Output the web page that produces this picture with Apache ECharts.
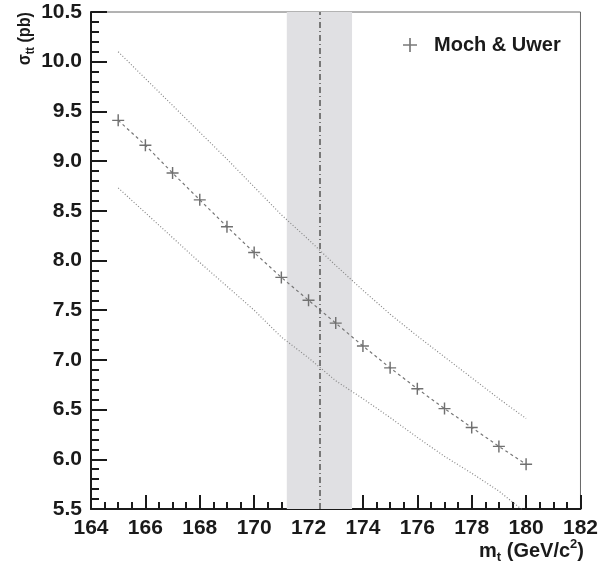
<!DOCTYPE html>
<html>
<head>
<meta charset="utf-8">
<script src="https://cdn.jsdelivr.net/npm/echarts@6/dist/echarts.min.js"></script>
<style>
html,body{margin:0;padding:0;background:#fff;}
#chart{width:601px;height:567px;}
</style>
</head>
<body>
<div id="chart"></div>
<script>
// top mass points (GeV/c^2)
var masses = [165,166,167,168,169,170,171,172,173,174,175,176,177,178,179,180];
// cross section, central + scale band (pb)
var central = [9.41,9.16,8.88,8.61,8.34,8.08,7.83,7.60,7.37,7.14,6.92,6.71,6.51,6.32,6.13,5.95];
var upper   = [10.10,9.83,9.56,9.29,9.02,8.74,8.46,8.21,7.95,7.70,7.46,7.24,7.03,6.82,6.61,6.41];
var lower   = [8.73,8.48,8.23,7.98,7.74,7.50,7.23,7.02,6.79,6.61,6.42,6.22,6.03,5.86,5.68,5.46];
var mtBand = [171.2,173.6];
var mtLine = 172.4;
var xTicks = [164,182,2];
var yTicks = [5.5,10.5,0.5];

function pairs(xs, ys){
	var out=[];
	for(var i=0;i<xs.length;i++){ out.push([xs[i],ys[i]]); }
	return out;
}

var plus = 'path://M4.4,0h1.2v4.4h4.4v1.2h-4.4v4.4h-1.2v-4.4h-4.4v-1.2h4.4z';
var font = 'Liberation Sans';

var myChart = echarts.init(document.getElementById('chart'));
var option = {
	animation:false,
	backgroundColor:'#fff',
	grid:{
		left:91, right:17, top:12, bottom:58,
		show:true, borderColor:'#666', borderWidth:1, backgroundColor:'transparent'
	},
	legend:{
		left:398, top:30,
		itemWidth:14, itemHeight:14,
		data:[{name:'Moch & Uwer', icon:plus}],
		itemStyle:{color:'#7a7a7a'},
		textStyle:{fontFamily:font, fontWeight:'bold', fontSize:20, color:'#1a1a1a', padding:[0,0,0,12]}
	},
	xAxis:{
		type:'value', min:xTicks[0], max:xTicks[1], interval:xTicks[2],
		axisLine:{lineStyle:{color:'#1a1a1a', width:2}},
		axisTick:{inside:true, length:14, lineStyle:{width:2, color:'#1a1a1a'}},
		minorTick:{show:true, splitNumber:4, length:7, lineStyle:{width:2, color:'#1a1a1a'}},
		splitLine:{show:false},
		axisLabel:{fontFamily:font, fontWeight:'bold', fontSize:21, color:'#1a1a1a', margin:9}
	},
	yAxis:{
		type:'value', min:yTicks[0], max:yTicks[1], interval:yTicks[2],
		axisLine:{show:true, lineStyle:{color:'#1a1a1a', width:2}},
		axisTick:{show:true, inside:true, length:16, lineStyle:{width:2, color:'#1a1a1a'}},
		minorTick:{show:true, splitNumber:5, length:8, lineStyle:{width:2, color:'#1a1a1a'}},
		splitLine:{show:false},
		axisLabel:{fontFamily:font, fontWeight:'bold', fontSize:21, color:'#1a1a1a', margin:9,
			formatter:function(v){ return v.toFixed(1); }}
	},
	graphic:[
		{
			type:'text', x:25, y:12, rotation:Math.PI/2, scaleX:0.9,
			style:{
				text:'{s|σ}{b|tt}{s| (pb)}',
				align:'right', verticalAlign:'middle',
				rich:{
					s:{fontFamily:font, fontWeight:'bold', fontSize:18, fill:'#1a1a1a', lineHeight:24, verticalAlign:'middle'},
					b:{fontFamily:font, fontWeight:'bold', fontSize:12, fill:'#1a1a1a', lineHeight:24, verticalAlign:'bottom'}
				}
			}
		},
		{
			type:'text', x:584, y:551,
			style:{
				text:'{s|m}{b|t}{s| (GeV/c}{p|2}{s|)}',
				align:'right', verticalAlign:'middle',
				rich:{
					s:{fontFamily:font, fontWeight:'bold', fontSize:20, fill:'#1a1a1a', lineHeight:26, verticalAlign:'middle'},
					b:{fontFamily:font, fontWeight:'bold', fontSize:13, fill:'#1a1a1a', lineHeight:26, verticalAlign:'bottom'},
					p:{fontFamily:font, fontWeight:'bold', fontSize:13, fill:'#1a1a1a', lineHeight:26, verticalAlign:'top'}
				}
			}
		}
	],
	series:[
		{
			name:'band', type:'line', data:[], silent:true,
			markArea:{
				silent:true,
				itemStyle:{color:'#e0e0e3'},
				data:[[{xAxis:mtBand[0]},{xAxis:mtBand[1]}]]
			},
			markLine:{
				silent:true, symbol:'none', label:{show:false},
				lineStyle:{color:'#555', width:1.5, type:[6,3,1,3]},
				data:[{xAxis:mtLine}]
			}
		},
		{
			name:'upper', type:'line', data:pairs(masses, upper), symbol:'none',
			lineStyle:{color:'#888', width:1.2, type:[1,2]}
		},
		{
			name:'lower', type:'line', data:pairs(masses, lower), symbol:'none',
			lineStyle:{color:'#888', width:1.2, type:[1,2]}
		},
		{
			name:'Moch & Uwer', type:'line', data:pairs(masses, central),
			symbol:plus, symbolSize:12,
			itemStyle:{color:'#707070'},
			lineStyle:{color:'#777', width:1.2, type:[3,3]}
		}
	]
};
myChart.setOption(option);
window.onresize = myChart.resize;
</script>
</body>
</html>
